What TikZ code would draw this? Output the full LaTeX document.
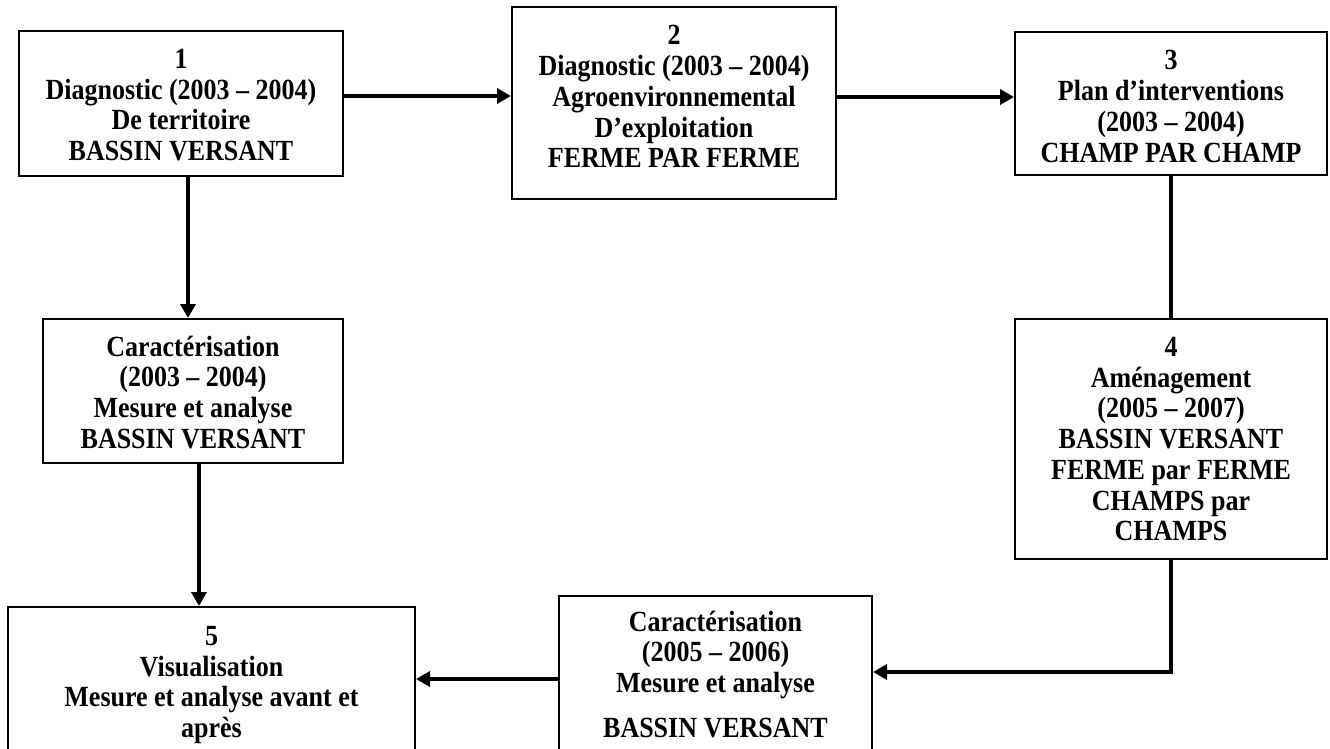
\documentclass[tikz,border=0pt]{standalone}
\usepackage{graphicx}
\usepackage{fontspec}
\setmainfont{Liberation Serif}
\usetikzlibrary{arrows.meta,calc}
% #1 width, #2 height, #3 first-baseline offset (all in px=pt, after scaling), #4 lines
\newcommand{\boxtxt}[4]{\scalebox{1}[1.125]{\parbox[c][\dimexpr #2pt*8/9\relax][t]{#1pt}{\centering\fontsize{26}{27.3}\selectfont\bfseries\lineskiplimit=-100pt\lineskip=0pt\rule{0pt}{\dimexpr #3pt*8/9\relax}#4\par}}}
\tikzset{
  stagebox/.style={draw=black, line width=2pt, rectangle, inner sep=0pt, align=center},
  arr/.style={draw=black, line width=4.5pt, -{Triangle[length=14pt,width=15pt]}},
  plainline/.style={draw=black, line width=4.5pt}
}
\begin{document}
\begin{tikzpicture}[x=1pt,y=-1pt]
\useasboundingbox (0,0) rectangle (1330,749);
\clip (0,0) rectangle (1330,749);
\fill[white] (0,0) rectangle (1330,749);

\node[stagebox, minimum width=324pt, minimum height=145pt] (b1) at (181,103.5)
  {\boxtxt{324}{145}{37.5}{1\\Diagnostic (2003 – 2004)\\De territoire\\BASSIN VERSANT}};
\node[stagebox, minimum width=324pt, minimum height=192pt] (b2) at (674,103)
  {\boxtxt{324}{192}{38}{2\\Diagnostic (2003 – 2004)\\Agroenvironnemental\\D’exploitation\\FERME PAR FERME}};
\node[stagebox, minimum width=312pt, minimum height=143pt] (b3) at (1171,103.5)
  {\boxtxt{312}{143}{38}{3\\Plan d’interventions\\(2003 – 2004)\\CHAMP PAR CHAMP}};
\node[stagebox, minimum width=312pt, minimum height=240pt] (b4) at (1171,439)
  {\boxtxt{312}{240}{37.5}{4\\Aménagement\\(2005 – 2007)\\BASSIN VERSANT\\FERME par FERME\\CHAMPS par\\CHAMPS}};
\node[stagebox, minimum width=300pt, minimum height=144pt] (c1) at (193,391)
  {\boxtxt{300}{144}{37}{Caractérisation\\(2003 – 2004)\\Mesure et analyse\\BASSIN VERSANT}};
\node[stagebox, minimum width=313pt, minimum height=161pt] (c2) at (715.5,676.5)
  {\boxtxt{313}{161}{35}{Caractérisation\\(2005 – 2006)\\Mesure et analyse\\[12.4pt]BASSIN VERSANT}};
\node[stagebox, minimum width=407pt, minimum height=153pt] (b5) at (211.5,683.5)
  {\boxtxt{407}{153}{38.5}{5\\Visualisation\\Mesure et analyse avant et\\après}};

\draw[arr] ([yshift=7.5pt]b1.east) -- ([yshift=7.5pt]b1.east -| b2.west);
\draw[arr] ([yshift=6pt]b2.east) -- ([yshift=6pt]b2.east -| b3.west);
\draw[plainline] (b3.south) -- (b4.north);
\draw[arr] (b4.south) |- ([yshift=4.5pt]c2.east);
\draw[arr] ([yshift=-2.5pt]c2.west) -- ([yshift=-2.5pt]c2.west -| b5.east);
\draw[arr] ([xshift=7pt]b1.south) -- ([xshift=7pt]b1.south |- c1.north);
\draw[arr] ([xshift=6pt]c1.south) -- ([xshift=6pt]c1.south |- b5.north);
\end{tikzpicture}
\end{document}
